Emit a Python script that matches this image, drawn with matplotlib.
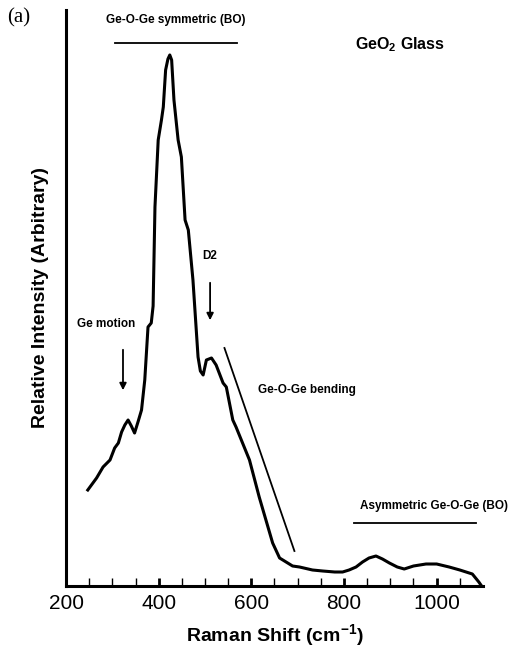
import matplotlib
matplotlib.use("Agg")
import matplotlib.pyplot as plt
import numpy as np

plt.rcParams["font.family"] = ["Liberation Sans", "DejaVu Sans"]
plt.rcParams["mathtext.fontset"] = "custom"
plt.rcParams["mathtext.rm"] = "Liberation Sans:bold"
plt.rcParams["mathtext.it"] = "Liberation Sans:bold"
plt.rcParams["mathtext.bf"] = "Liberation Sans:bold"

# Raman spectrum of GeO2 glass
shift = [247, 266, 280, 295, 305, 313, 320, 327, 334, 341, 348, 356, 363, 370, 377, 384,
         388, 392, 399, 406, 410, 415, 420, 424, 428, 433, 442, 449, 457, 464, 474, 485,
         490, 496, 503, 514, 524, 539, 546, 560, 567, 596, 617, 646, 661, 689, 704, 732,
         754, 780, 797, 811, 826, 840, 854, 869, 883, 898, 915, 930, 950, 977, 1000, 1027,
         1050, 1077, 1091, 1097]
intensity = [96, 108, 119, 126, 138, 143, 154, 161, 166, 160, 153, 165, 176, 206, 259, 263,
             280, 379, 446, 466, 479, 516, 527, 531, 526, 486, 446, 429, 366, 356, 306, 229,
             215, 211, 226, 228, 221, 203, 199, 166, 159, 126, 89, 43, 28, 20, 19, 16,
             15, 14, 14, 16, 19, 24, 28, 30, 27, 23, 19, 17, 20, 22, 22, 19,
             16, 12, 4, 0]

fig = plt.figure(figsize=(5.23, 6.53), dpi=100)
ax = fig.add_axes([0.1262, 0.1026, 0.7973, 0.8821])
ax.plot(shift, intensity, color="black", lw=2.2, solid_joinstyle="round")

ax.set_xlim(200, 1100)
ax.set_ylim(0, 576)
ax.set_xticks([200, 400, 600, 800, 1000])
ax.set_xticks(np.arange(250, 1100, 50), minor=True)
ax.set_yticks([])
ax.tick_params(axis="x", which="major", direction="in", length=6, width=2, labelsize=15, pad=6)
ax.tick_params(axis="x", which="minor", direction="in", length=6, width=1)
for s in ["top", "right"]:
    ax.spines[s].set_visible(False)
for s in ["left", "bottom"]:
    ax.spines[s].set_linewidth(2.2)

ax.set_xlabel(r"Raman Shift (cm$^{-1}$)", fontsize=14, fontweight="bold", labelpad=6)
ax.set_ylabel("Relative Intensity (Arbitrary)", fontsize=14, fontweight="bold", labelpad=12)

# annotations
bold = dict(fontweight="bold", color="black")
ax.plot([306, 568], [543, 543], color="black", lw=1.3)
ax.text(437, 566, "Ge-O-Ge symmetric (BO)", ha="center", va="center", fontsize=8.5, **bold)
ax.text(0.8, 0.94, r"GeO$_2$ Glass", transform=ax.transAxes, ha="center", va="center",
        fontsize=11.5, **bold)
fig.text(0.013, 0.972, "(a)", family="Liberation Serif", fontsize=15, ha="left", va="center")

ax.text(286, 262, "Ge motion", ha="center", va="center", fontsize=8.5, **bold)
ax.annotate("", xy=(323, 193), xytext=(323, 239),
            arrowprops=dict(arrowstyle="-|>", color="black", lw=1.3, mutation_scale=10))
ax.text(510, 330, "D2", ha="center", va="center", fontsize=8.5, **bold)
ax.annotate("", xy=(511, 263), xytext=(511, 306),
            arrowprops=dict(arrowstyle="-|>", color="black", lw=1.3, mutation_scale=10))

ax.plot([542, 693], [238, 35], color="black", lw=1.3)
ax.text(721, 196, "Ge-O-Ge bending", ha="center", va="center", fontsize=8.5, **bold)

ax.plot([822, 1084], [63, 63], color="black", lw=1.3)
ax.text(994, 74, "Asymmetric Ge-O-Ge (BO)", ha="center", va="bottom", fontsize=8.5, **bold)

fig.savefig("out.png", dpi=100)
